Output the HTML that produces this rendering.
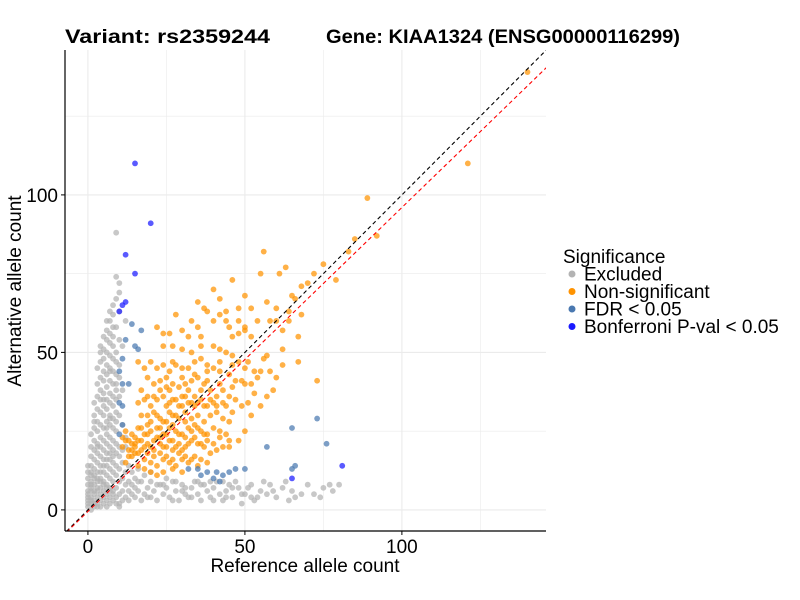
<!DOCTYPE html>
<html><head><meta charset="utf-8"><style>
html,body{margin:0;padding:0;background:#fff;}
svg{display:block;font-family:"Liberation Sans",Arial,sans-serif;}
</style></head><body>
<svg id="chart" width="800" height="600" viewBox="0 0 800 600">
<text x="65" y="43" font-size="19" font-weight="bold" textLength="205" lengthAdjust="spacingAndGlyphs">Variant: rs2359244</text>
<text x="326" y="43" font-size="19" font-weight="bold" textLength="354" lengthAdjust="spacingAndGlyphs">Gene: KIAA1324 (ENSG00000116299)</text>
<g id="grid"></g>
<g id="pts"></g>
<g id="lines"></g>
<g id="axes"></g>
<text x="305" y="572" font-size="19" text-anchor="middle">Reference allele count</text>
<text transform="translate(21,291) rotate(-90)" font-size="19" text-anchor="middle">Alternative allele count</text>
<g id="legend"></g>
</svg>
<script>
const xTicks=[0,50,100];
const yTicks=[0,50,100];
const legendLabels=["Excluded","Non-significant","FDR < 0.05","Bonferroni P-val < 0.05"];
const legendColors=["#b3b3b3","#ff9300","#4a78b0","#1a1aff"];
const excluded="0,1 0,2 0,3 0,4 0,5 0,6 0,8 0,10 0,12 1,0 1,2 1,4 1,6 1,7 1,9 1,11 1,14 1,17 1,20 1,24 2,1 2,3 2,5 2,8 2,10 2,13 2,16 2,19 2,22 2,26 2,30 2,34 3,2 3,4 3,6 3,9 3,12 3,15 3,18 3,21 3,25 3,28 3,32 3,36 3,40 3,45 4,1 4,3 4,5 4,7 4,10 4,14 4,17 4,20 4,23 4,27 4,31 4,35 4,38 4,42 4,47 4,52 5,2 5,4 5,6 5,9 5,12 5,16 5,19 5,22 5,26 5,30 5,33 5,37 5,41 5,44 5,48 5,51 5,55 6,1 6,3 6,5 6,8 6,11 6,14 6,18 6,21 6,24 6,28 6,32 6,35 6,39 6,43 6,46 6,50 6,54 6,57 7,2 7,4 7,7 7,10 7,13 7,16 7,20 7,23 7,27 7,30 7,34 7,37 7,41 7,45 7,49 7,53 7,56 7,60 8,3 8,6 8,9 8,12 8,15 8,19 8,22 8,26 8,29 8,33 8,36 8,40 8,44 8,48 8,52 8,58 8,62 9,4 9,7 9,11 9,14 9,18 9,21 9,25 9,28 9,31 9,35 9,38 9,43 9,47 9,50 9,67 9,74 9,88 10,2 10,5 10,9 10,13 10,17 10,20 10,30 10,36 10,42 10,46 10,54 10,63 10,69 10,72 11,3 11,6 11,10 11,15 11,19 11,27 11,38 11,52 12,4 12,8 12,12 12,23 12,60 13,3 13,6 13,9 14,5 14,8 15,4 15,7 15,10 16,6 17,3 17,9 18,5 19,7 20,4 20,9 21,6 22,3 23,8 24,5 25,7 26,4 27,9 28,6 29,3 30,8 31,5 32,4 33,7 34,9 35,5 36,3 37,8 38,6 39,4 40,7 41,9 42,5 43,3 44,6 45,8 46,4 48,7 49,2 50,5 52,8 53,3 55,6 57,5 58,8 60,4 62,7 64,3 65,6 66,4 70,8 72,5 75,7 78,6 80,8 12,20 13,14 14,12 16,13 18,11 20,12 1,3 2,2 3,1 3,7 2,6 1,8 0,14 1,12 2,11 3,10 4,9 5,8 6,7 7,6 8,5 9,2 10,1 4,12 5,14 6,16 7,18 8,17 3,20 6,26 7,29 2,28 5,35 9,40 7,44 4,50 8,55 6,60 9,58 8,65 7,63 24,8 27,3 30,6 33,4 36,8 39,9 44,4 47,9 51,7 54,4 56,9 59,6 63,9 68,5 74,4 77,8 16,9 19,4 22,8 25,10 28,9 31,7 35,9 40,3 43,9 46,7 49,5 52,4";
const nonsig="140,139 121,110 89,99 92,87 85,86 83,82 79,73 75,78 72,75 70,72 68,71 66,67 65,68 63,77 61,75 56,82 55,75 60,64 62,57 58,60 73,41 67,47 57,49 56,48 50,58 50,57 52,55 48,56 46,55 44,60 45,58 42,62 40,60 38,63 35,58 36,55 33,60 28,62 30,57 26,56 24,56 22,58 24,52 27,52 30,51 33,50 36,52 40,52 42,51 44,50 46,49 48,47 50,45 53,44 55,44 47,41 45,43 42,44 40,45 38,46 36,48 34,47 32,45 30,45 28,46 26,44 24,46 22,45 20,47 18,45 16,47 19,42 21,40 23,41 25,42 27,40 29,39 31,40 33,41 35,42 37,40 39,38 41,36 43,38 45,36 47,35 49,33 51,34 53,37 40,34 38,33 36,35 34,36 32,34 30,33 28,35 26,34 24,36 22,35 20,33 18,35 16,34 17,30 19,30 21,31 23,29 25,28 27,30 29,29 31,28 33,29 35,30 37,28 39,30 41,31 43,29 45,28 42,25 40,26 38,24 36,25 34,27 32,26 30,24 28,25 26,26 24,24 22,26 20,25 18,24 16,26 14,24 12,25 11,23 13,22 15,21 17,22 19,21 21,22 23,21 25,20 27,22 29,21 31,20 33,22 35,21 37,20 39,18 41,19 43,20 45,22 38,15 36,16 34,17 32,15 30,16 28,14 26,15 24,16 22,14 20,15 18,16 16,14 14,17 12,15 11,20 13,19 15,18 17,19 19,18 21,17 23,18 25,17 27,16 29,18 31,17 33,16 35,14 18,13 20,12 22,11 24,12 27,13 30,12 45,20 48,22 50,25 52,30 55,33 57,36 59,38 60,42 49,41 51,47 38,44 32,38 28,30 24,28 20,28 16,22 14,21 12,22 26,38 30,36 36,38 44,33 46,31 52,40 54,42 58,44 62,46 62,51 64,60 48,60 54,60 35,66 40,70 46,73 50,68 52,64 42,67 44,63 37,64 48,64 32,55 27,47 15,20 19,24 23,23 27,27 31,31 34,33 26,31 22,30 42,47 46,46 68,62 60,60 64,63 57,66 67,55 13,17 15,23 17,26 19,27 21,19 23,26 25,24 27,19 29,24 31,23 33,25 35,26 37,24 14,19 16,18 18,20 20,20 22,23 24,20 26,22 28,20 30,19 32,21 34,23 36,21 38,22 40,21 42,23 44,24 25,33 27,35 29,33 31,36 33,34 35,34 37,33 39,35 41,33 43,34 21,36 23,38 25,39 17,38 19,36 30,42 34,43 38,41 42,40 46,39 50,40";
const fdr="14,59 17,57 12,54 15,52 16,51 11,48 10,44 11,40 13,40 10,34 11,33 11,27 10,24 35,13 38,12 41,12 43,11 45,12 47,13 50,13 40,10 42,9 36,11 32,13 57,20 65,26 66,14 65,13 73,29 76,21";
const bonf="15,110 20,91 12,81 15,75 12,66 11,65 10,63 65,10 81,14";
const NS="http://www.w3.org/2000/svg";
const L=65,R=546,T=50,B=531;
const xmin=-7.3,xmax=145.9,ymin=-6.7,ymax=146;
function sx(v){return L+(v-xmin)/(xmax-xmin)*(R-L);}
function sy(v){return B-(v-ymin)/(ymax-ymin)*(B-T);}
function mk(tag,a,p){const e=document.createElementNS(NS,tag);for(const k in a)e.setAttribute(k,a[k]);p.appendChild(e);return e;}
const grid=document.getElementById('grid');
[0,25,50,75,100,125].forEach(v=>{
 const g1=mk('line',{x1:sx(v),x2:sx(v),y1:T,y2:B,stroke:'#ebebeb','stroke-width':v%50?0.6:1.1},grid);
 
 
 const g2=mk('line',{x1:L,x2:R,y1:sy(v),y2:sy(v),stroke:'#ebebeb','stroke-width':v%50?0.6:1.1},grid);
 
 
});
function parse(s){return s.trim().split(/\s+/).map(p=>p.split(',').map(Number));}
const pts=document.getElementById('pts');
[[excluded,legendColors[0],'excluded-point'],[nonsig,legendColors[1],'nonsignificant-point'],[fdr,legendColors[2],'fdr-point'],[bonf,legendColors[3],'bonferroni-point']].forEach(([s,c,n])=>{
 parse(s).forEach(([x,y])=>{
  const e=mk('circle',{cx:sx(x),cy:sy(y),r:2.9,fill:c,'fill-opacity':0.72},pts);
  
  
 });
});
const lines=document.getElementById('lines');
const cp=mk('clipPath',{id:'cp'},lines);mk('rect',{x:L,y:T,width:R-L,height:B-T},cp);
const d1=mk('line',{x1:sx(-10),y1:sy(-10),x2:sx(150),y2:sy(150),stroke:'#000','stroke-width':1.1,'stroke-dasharray':'4,3','clip-path':'url(#cp)'},lines);


const d2=mk('line',{x1:sx(-10),y1:sy(-10*0.965-0.5),x2:sx(150),y2:sy(150*0.965-0.5),stroke:'#ff0000','stroke-width':1.1,'stroke-dasharray':'4,3','clip-path':'url(#cp)'},lines);


const ax=document.getElementById('axes');
mk('line',{x1:L,x2:L,y1:T,y2:B,stroke:'#000','stroke-width':1.2},ax);
mk('line',{x1:L,x2:R,y1:B,y2:B,stroke:'#000','stroke-width':1.2},ax);
xTicks.forEach(v=>{
 mk('line',{x1:sx(v),x2:sx(v),y1:B,y2:B+4,stroke:'#000'},ax);
 const t=mk('text',{x:sx(v),y:B+22,'font-size':19,'text-anchor':'middle'},ax);t.textContent=v;
 
 
});
yTicks.forEach(v=>{
 mk('line',{x1:L-4,x2:L,y1:sy(v),y2:sy(v),stroke:'#000'},ax);
 const t=mk('text',{x:L-7,y:sy(v)+7,'font-size':19,'text-anchor':'end'},ax);t.textContent=v;
 
 
});
const lg=document.getElementById('legend');
const lt=mk('text',{x:563,y:263,'font-size':19},lg);lt.textContent='Significance';


legendLabels.forEach((s,i)=>{
 const y=274+i*17.5;
 mk('circle',{cx:572,cy:y,r:3.5,fill:legendColors[i]},lg);
 const t=mk('text',{x:584,y:y+6.5,'font-size':19},lg);t.textContent=s;
 
 
});
</script>
</body></html>
